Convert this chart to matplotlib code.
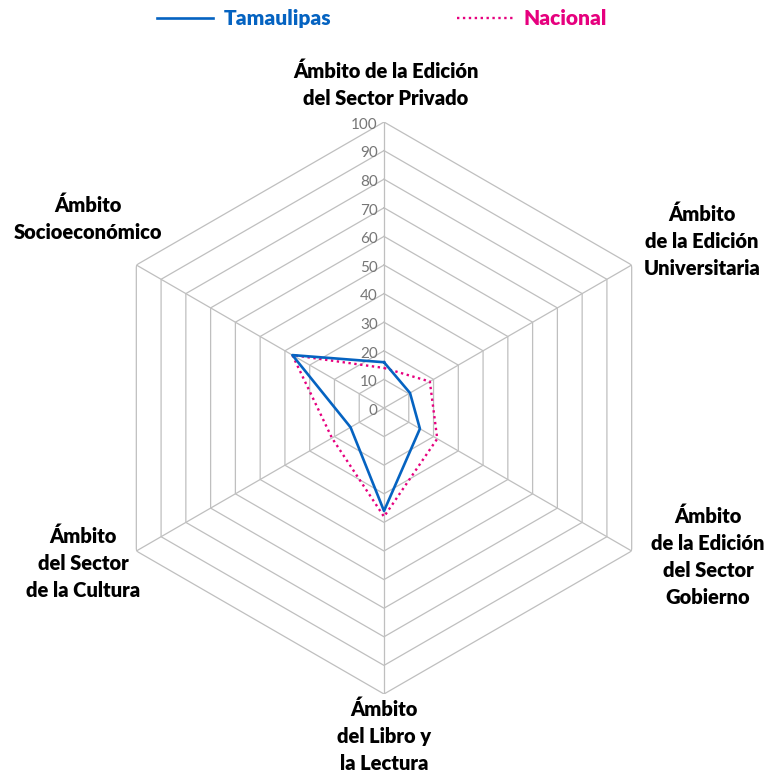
import numpy as np
import matplotlib
matplotlib.use("Agg")
import matplotlib.pyplot as plt
from matplotlib.transforms import offset_copy

# data
categorias = [
    "Ámbito de la Edición\ndel Sector Privado",
    "Ámbito\nde la Edición\nUniversitaria",
    "Ámbito\nde la Edición\ndel Sector\nGobierno",
    "Ámbito\ndel Libro y\nla Lectura",
    "Ámbito\ndel Sector\nde la Cultura",
    "Ámbito\nSocioeconómico",
]
tamaulipas = [16, 10.5, 14.5, 36, 13.5, 37]
nacional = [14, 18.5, 21.5, 38, 21, 37]
niveles = [0, 10, 20, 30, 40, 50, 60, 70, 80, 90, 100]

# label block centres in pixels (x, y from top)
pos_etiquetas = [(386, 85), (702, 241), (708, 557), (384, 736), (83, 563), (88, 219)]

azul = "#0563C1"
rosa = "#E6007E"
gris = "#BFBFBF"

plt.rcParams["font.family"] = ["Lato", "DejaVu Sans"]

W, H = 765, 776
fig = plt.figure(figsize=(W / 100, H / 100), dpi=100)
cx, cy, R = 384, 408, 286
ax = fig.add_axes([(cx - R) / W, (H - cy - R) / H, 2 * R / W, 2 * R / H], projection="polar")
ax.set_theta_zero_location("N")
ax.set_theta_direction(-1)
ax.set_ylim(0, 100)
ax.grid(False)
ax.spines["polar"].set_visible(False)
ax.set_xticks([])
ax.set_yticks([])
ax.patch.set_alpha(0)

n = len(categorias)
ang = np.linspace(0, 2 * np.pi, n, endpoint=False)
ang_c = np.append(ang, ang[0])

# hexagon grid
for v in niveles[1:]:
    ax.plot(ang_c, [v] * (n + 1), color=gris, lw=0.9, zorder=1)
for a in ang:
    ax.plot([a, a], [0, 100], color=gris, lw=0.9, zorder=1)

# radial labels
tr = offset_copy(ax.transData, fig=fig, x=-4.5, y=-2, units="points")
for v in niveles:
    ax.text(0, v, str(v), transform=tr, ha="right", va="center",
            fontsize=11, color="#767676")

l1, = ax.plot(ang_c, tamaulipas + tamaulipas[:1], color=azul, lw=1.9, zorder=4,
              label="Tamaulipas")
l2, = ax.plot(ang_c, nacional + nacional[:1], color=rosa, lw=1.7, zorder=3,
              linestyle=(0, (1, 1.5)), label="Nacional")

for txt, (px, py) in zip(categorias, pos_etiquetas):
    fig.text(px / W, 1 - py / H, txt, ha="center", va="center", fontsize=14.5,
             fontweight="heavy", color="black", linespacing=1.5,
             multialignment="center")

leg = fig.legend(handles=[l1, l2], loc="center", bbox_to_anchor=(382 / W, 1 - 18.5 / H),
                 ncol=2, frameon=False, handlelength=2.7, handletextpad=0.53,
                 columnspacing=6.0, prop={"size": 15, "weight": "heavy"})
for t, l in zip(leg.get_texts(), [l1, l2]):
    t.set_color(l.get_color())

fig.savefig("out.png", dpi=100)
